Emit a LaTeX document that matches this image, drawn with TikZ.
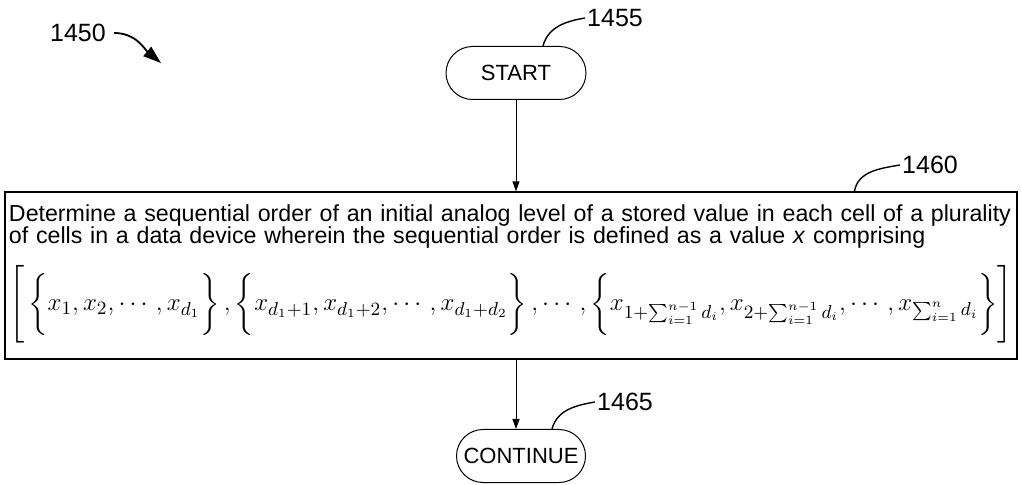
\documentclass[tikz,border=0pt]{standalone}
\usepackage{amsmath, amssymb}
\usepackage{graphicx}
\usepackage{fontspec}
\setmainfont{Liberation Sans}
\usepackage{tikz}
\usetikzlibrary{positioning, arrows.meta, calc, shapes.misc}

\newcommand{\bigstrut}{\vphantom{\rule[-17.3pt]{0pt}{40pt}}}
\newcommand{\setstrut}{\vphantom{\rule[-13.5pt]{0pt}{32.7pt}}}

\begin{document}
\begin{tikzpicture}[x=0.5pt, y=-0.5pt,
  terminal/.style={draw, rounded rectangle, minimum height=26.5pt, inner xsep=1pt, font=\fontsize{11}{12}\selectfont, line width=0.5pt},
  stepbox/.style={draw, line width=0.6pt, align=left, text width=502pt, minimum height=83.5pt, inner xsep=2pt, inner ysep=1pt, font=\fontsize{11.6}{11.2}\selectfont},
  reflabel/.style={font=\fontsize{12.5}{13}\selectfont, inner sep=1pt},
  arrow/.style={-{Triangle[length=5pt, width=3.5pt]}, line width=0.5pt},
  leader/.style={line width=0.7pt}
]
\useasboundingbox (0,0) rectangle (1021,485);

\node[terminal, minimum width=72pt] (start) at (516,73) {START};

\node[stepbox] (determine) at (511,275.5) {Determine a sequential order of an initial analog level of a stored value in each cell of a plurality\\
of cells in a data device wherein the sequential order is defined as a value \textit{x} comprising\\[6.5pt]
\resizebox{502pt}{!}{\fontsize{12.45}{13}\selectfont$\displaystyle\left[\bigstrut\left\{\setstrut x_1,x_2,\cdots,x_{d_1}\right\},\left\{\setstrut x_{d_1+1},x_{d_1+2},\cdots,x_{d_1+d_2}\right\},\cdots,\left\{\setstrut x_{1+\sum_{i=1}^{n-1}d_i},x_{2+\sum_{i=1}^{n-1}d_i},\cdots,x_{\sum_{i=1}^{n}d_i}\right\}\right]$}};

\node[terminal, minimum width=66.5pt] (continue) at (521,456) {CONTINUE};

% reference numerals
\node[reflabel] (l1450) at (78,33) {1450};
\node[reflabel] (l1455) at (615,18) {1455};
\node[reflabel] (l1460) at (930,165) {1460};
\node[reflabel] (l1465) at (625,402) {1465};
\coordinate (p1450) at (161,63);

\draw[-{Triangle[length=9pt, width=6pt]}, line width=0.9pt] ($(l1450.east)+(6,0)$) to[out=0, in=140] (p1450);
\draw[leader] ($(start.north)+(27,0)$) to[out=75, in=190] (l1455.west);
\draw[leader] ($(determine.north west)+(850,0)$) to[out=80, in=190] (l1460.west);
\draw[leader] ($(continue.north)+(31,0)$) to[out=75, in=190] (l1465.west);

% flow
\draw[arrow] (start.south) -- (start.south |- determine.north);
\draw[arrow] (determine.south -| start.south) -- (continue.north -| start.south);
\end{tikzpicture}
\end{document}
